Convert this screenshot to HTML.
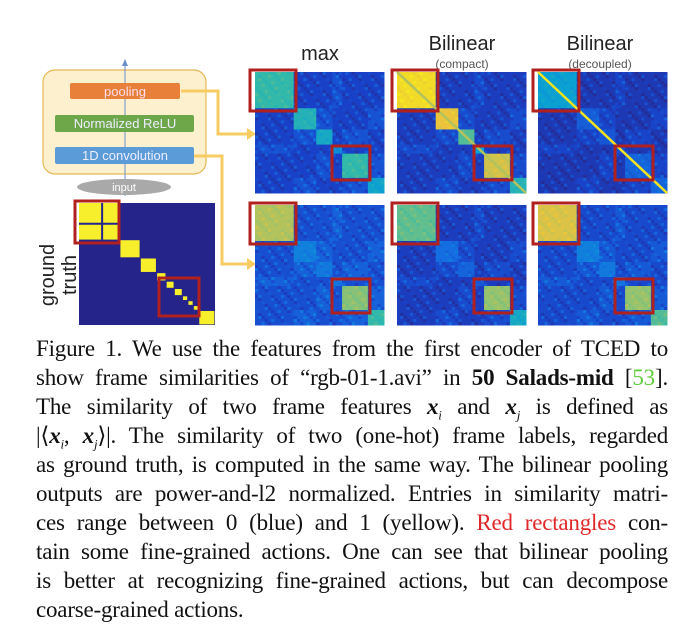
<!DOCTYPE html>
<html><head><meta charset="utf-8"><style>
body{margin:0;background:#fff;width:700px;height:644px;overflow:hidden;position:relative}
.cap{position:absolute;left:36px;width:632px;top:334px;font-family:"Liberation Serif",serif;font-size:23px;line-height:29px;color:#111;letter-spacing:-0.2px}
.ln{text-align:justify;text-align-last:justify;white-space:nowrap;height:29px}
.ln.last{text-align-last:left}
.m{font-weight:bold;font-style:italic}
</style></head><body>
<svg id="fig" width="700" height="334" style="position:absolute;left:0;top:0" font-family="Liberation Sans, sans-serif">
<rect x="43" y="70" width="163" height="104" rx="12" fill="#fdf0cf" stroke="#e5b955" stroke-width="1.2"/>
<line x1="125" y1="196" x2="125" y2="66" stroke="#6a8fc8" stroke-width="1"/>
<path d="M122,66 L125,59 L128,66Z" fill="#6a8fc8"/>
<rect x="70" y="83" width="110" height="16" rx="2" fill="#e8803a"/>
<text x="125" y="96" text-anchor="middle" font-size="13" fill="#fde">pooling</text>
<rect x="55" y="115" width="139" height="17" rx="2" fill="#6ea64a"/>
<text x="125" y="128" text-anchor="middle" font-size="13" fill="#eef">Normalized ReLU</text>
<rect x="55" y="147" width="139" height="17" rx="2" fill="#5b9bd8"/>
<text x="125" y="160" text-anchor="middle" font-size="13" fill="#eef">1D convolution</text>
<ellipse cx="124" cy="187" rx="47" ry="8" fill="#a9a9a9"/>
<text x="124" y="191" text-anchor="middle" font-size="11" fill="#fff">input</text>
<path d="M181,91 H218 V134 H248" fill="none" stroke="#f7cc63" stroke-width="3"/>
<path d="M247,128 L256,134 L247,140Z" fill="#f7cc63"/>
<path d="M194,156 H222 V264 H248" fill="none" stroke="#f7cc63" stroke-width="3"/>
<path d="M247,258 L256,264 L247,270Z" fill="#f7cc63"/>
<text x="320" y="60" text-anchor="middle" font-size="20" fill="#222">max</text>
<text x="462" y="50" text-anchor="middle" font-size="20" fill="#222">Bilinear</text>
<text x="462" y="68" text-anchor="middle" font-size="12" fill="#555">(compact)</text>
<text x="600" y="50" text-anchor="middle" font-size="20" fill="#222">Bilinear</text>
<text x="600" y="68" text-anchor="middle" font-size="12" fill="#555">(decoupled)</text>
<text transform="translate(58,275) rotate(-90)" text-anchor="middle" font-size="20" fill="#222"><tspan x="0" dy="-4">ground</tspan><tspan x="0" dy="22">truth</tspan></text>
<g id="maps"></g>
</svg>
<div class="cap">
<div class="ln">Figure 1. We use the features from the first encoder of TCED to</div>
<div class="ln">show frame similarities of “rgb-01-1.avi” in <b>50 Salads-mid</b> [<span style="color:#5ecb3a">53</span>].</div>
<div class="ln">The similarity of two frame features <span class="m">x</span><sub style="font-size:13px"><i>i</i></sub> and <span class="m">x</span><sub style="font-size:13px"><i>j</i></sub> is defined as</div>
<div class="ln">|⟨<span class="m">x</span><sub style="font-size:13px"><i>i</i></sub>, <span class="m">x</span><sub style="font-size:13px"><i>j</i></sub>⟩|. The similarity of two (one-hot) frame labels, regarded</div>
<div class="ln">as ground truth, is computed in the same way. The bilinear pooling</div>
<div class="ln">outputs are power-and-l2 normalized. Entries in similarity matri-</div>
<div class="ln">ces range between 0 (blue) and 1 (yellow). <span style="color:#e0282a">Red rectangles</span> con-</div>
<div class="ln">tain some fine-grained actions. One can see that bilinear pooling</div>
<div class="ln">is better at recognizing fine-grained actions, but can decompose</div>
<div class="ln last">coarse-grained actions.</div>
</div>
<script>
// segment boundaries (fraction of sequence)
const segBounds=[0,0.31,0.48,0.6,0.68,0.88,1];
// block intensity per map (one value per segment)
const blockMax=[0.55,0.5,0.45,0.35,0.55,0.42];
const blockCompact=[0.92,0.85,0.6,0.4,0.8,0.5];
const blockDecoupled=[0.4,0.2,0.18,0.16,0.22,0.22];
const blockMaxB=[0.75,0.3,0.28,0.28,0.68,0.55];
const blockCompactB=[0.62,0.25,0.22,0.2,0.7,0.45];
const blockDecoupledB=[0.82,0.3,0.28,0.28,0.7,0.6];
const bgVals=[0.12,0.1,0.08,0.16,0.1,0.14];
const gtSegs=[0,0.17,0.3,0.45,0.57,0.64,0.7,0.76,0.8,0.84,0.88,1];
const maps=[
 {name:'heatmap-max-top',x:255,y:72,w:129,h:121,blk:blockMax,bg:bgVals[0],diag:0},
 {name:'heatmap-compact-top',x:397,y:72,w:129,h:121,blk:blockCompact,bg:bgVals[1],diag:0.75},
 {name:'heatmap-decoupled-top',x:538,y:72,w:129,h:121,blk:blockDecoupled,bg:bgVals[2],diag:0.95},
 {name:'heatmap-max-bottom',x:255,y:205,w:129,h:120,blk:blockMaxB,bg:bgVals[3],diag:0},
 {name:'heatmap-compact-bottom',x:397,y:205,w:129,h:120,blk:blockCompactB,bg:bgVals[4],diag:0},
 {name:'heatmap-decoupled-bottom',x:538,y:205,w:129,h:120,blk:blockDecoupledB,bg:bgVals[5],diag:0}
];
const stops=[[0,[40,40,140]],[0.12,[25,65,200]],[0.25,[20,110,225]],[0.4,[10,160,210]],[0.55,[50,185,170]],[0.7,[150,195,110]],[0.85,[235,195,60]],[1,[249,245,20]]];
function cmap(v){v=Math.max(0,Math.min(1,v));for(let k=1;k<stops.length;k++){if(v<=stops[k][0]){const a=stops[k-1],b=stops[k],t=(v-a[0])/(b[0]-a[0]);return 'rgb('+a[1].map((c,i)=>Math.round(c+(b[1][i]-c)*t)).join(',')+')';}}return 'rgb(249,245,20)';}
function seg(f,b){for(let k=0;k<b.length-1;k++)if(f<b[k+1])return k;return b.length-2;}
const NS='http://www.w3.org/2000/svg',G=document.getElementById('maps');
const N=40;
maps.forEach(m=>{
 const g=document.createElementNS(NS,'g');
 
 
 for(let i=0;i<N;i++)for(let j=0;j<N;j++){
  const fi=(i+0.5)/N,fj=(j+0.5)/N,si=seg(fi,segBounds),sj=seg(fj,segBounds);
  const tex=((i*7+j*3)%5===0?-0.06:0)+((i+j*5)%7===0?0.08:0);
  let v=si===sj?m.blk[si]+tex*0.5:m.bg+((si+sj)%3===0?0.05:0)+tex;
  const r=document.createElementNS(NS,'rect');
  r.setAttribute('x',m.x+j*m.w/N);r.setAttribute('y',m.y+i*m.h/N);
  r.setAttribute('width',m.w/N+0.5);r.setAttribute('height',m.h/N+0.5);
  r.setAttribute('fill',cmap(v));g.appendChild(r);
 }
 if(m.diag){
  const l=document.createElementNS(NS,'line');
  
  
  l.setAttribute('x1',m.x);l.setAttribute('y1',m.y);l.setAttribute('x2',m.x+m.w);l.setAttribute('y2',m.y+m.h);
  l.setAttribute('stroke',cmap(m.diag));l.setAttribute('stroke-width','2.5');g.appendChild(l);
 }
 [[-5,-2,46,41],[77,74,38,34]].forEach(b=>{
  const r=document.createElementNS(NS,'rect');
  
  
  r.setAttribute('x',m.x+b[0]);r.setAttribute('y',m.y+b[1]);r.setAttribute('width',b[2]);r.setAttribute('height',b[3]);
  r.setAttribute('fill','none');r.setAttribute('stroke','#b0201e');r.setAttribute('stroke-width','3');g.appendChild(r);
 });
 G.appendChild(g);
});
// ground truth
(function(){
 const x0=79,y0=203,w=136,h=122;
 const g=document.createElementNS(NS,'g');
 
 
 const bg=document.createElementNS(NS,'rect');
 bg.setAttribute('x',x0);bg.setAttribute('y',y0);bg.setAttribute('width',w);bg.setAttribute('height',h);bg.setAttribute('fill','#24248a');g.appendChild(bg);
 for(let k=1;k<gtSegs.length-1;k++){
  const a=gtSegs[k],b=gtSegs[k+1];
  const r=document.createElementNS(NS,'rect');
  r.setAttribute('x',x0+a*w+0.6);r.setAttribute('y',y0+a*h+0.6);
  r.setAttribute('width',(b-a)*w-1.2);r.setAttribute('height',(b-a)*h-1.2);
  r.setAttribute('fill','#f7ef2c');g.appendChild(r);
 }
 const c=document.createElementNS(NS,'rect');
 c.setAttribute('x',x0);c.setAttribute('y',y0);c.setAttribute('width',gtSegs[2]*w);c.setAttribute('height',gtSegs[2]*h);c.setAttribute('fill','#f7ef2c');g.appendChild(c);
 [0,1].forEach(idx=>{
  const l=document.createElementNS(NS,'rect');
  if(idx===0){l.setAttribute('x',x0);l.setAttribute('y',y0+gtSegs[1]*h-1);l.setAttribute('width',gtSegs[2]*w);l.setAttribute('height',2);}
  else{l.setAttribute('x',x0+gtSegs[1]*w-1);l.setAttribute('y',y0);l.setAttribute('width',2);l.setAttribute('height',gtSegs[2]*h);}
  l.setAttribute('fill','#24248a');g.appendChild(l);
 });
 [[-4,-2,44,42],[80,75,40,38]].forEach(b=>{
  const r=document.createElementNS(NS,'rect');
  
  
  r.setAttribute('x',x0+b[0]);r.setAttribute('y',y0+b[1]);r.setAttribute('width',b[2]);r.setAttribute('height',b[3]);
  r.setAttribute('fill','none');r.setAttribute('stroke','#b0201e');r.setAttribute('stroke-width','3');g.appendChild(r);
 });
 G.appendChild(g);
})();
</script>
</body></html>
